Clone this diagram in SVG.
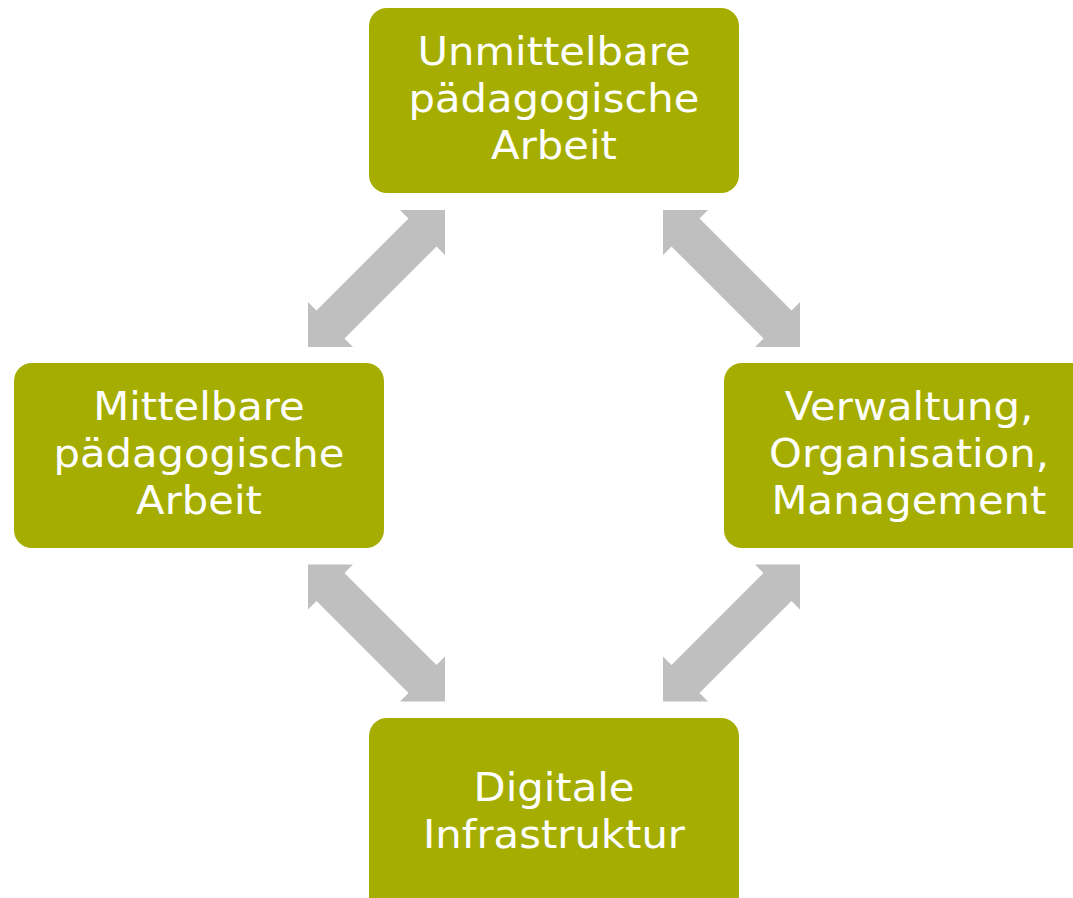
<svg xmlns="http://www.w3.org/2000/svg" xmlns:xlink="http://www.w3.org/1999/xlink" width="1073" height="898" viewBox="0 0 1073 898">
<defs>
<style>
.box{fill:#A5AE00;}
.lbl{font-family:"DejaVu Sans","Verdana",sans-serif;font-size:39px;fill:#FFFFFF;text-anchor:middle;}
.arr{fill:#BFBFBF;}
</style>
<polygon id="dblarrow" class="arr" points="23.5,-68.5 68.5,-68.5 68.5,-23.5 60,-32 -32,60 -23.5,68.5 -68.5,68.5 -68.5,23.5 -60,32 32,-60"/>
</defs>
<rect width="1073" height="898" fill="#FFFFFF"/>
<g id="connectors">
<use xlink:href="#dblarrow" transform="translate(376.5 278.5)"/>
<use xlink:href="#dblarrow" transform="translate(731.5 278.5) scale(-1 1)"/>
<use xlink:href="#dblarrow" transform="translate(376.5 633) scale(-1 1)"/>
<use xlink:href="#dblarrow" transform="translate(731.5 633)"/>
</g>
<g id="node-unmittelbare">
<rect class="box" x="369" y="8" width="370" height="185" rx="18" ry="18"/>
<text class="lbl" transform="translate(554 0) scale(1.07 1)"><tspan x="0" y="65">Unmittelbare</tspan><tspan x="0" y="112">pädagogische</tspan><tspan x="0" y="159">Arbeit</tspan></text>
</g>
<g id="node-mittelbare">
<rect class="box" x="14" y="363" width="370" height="185" rx="18" ry="18"/>
<text class="lbl" transform="translate(199 0) scale(1.07 1)"><tspan x="0" y="420">Mittelbare</tspan><tspan x="0" y="467">pädagogische</tspan><tspan x="0" y="514">Arbeit</tspan></text>
</g>
<g id="node-verwaltung">
<rect class="box" x="724" y="363" width="370" height="185" rx="18" ry="18"/>
<text class="lbl" transform="translate(909 0) scale(1.07 1)"><tspan x="0" y="420">Verwaltung,</tspan><tspan x="0" y="467">Organisation,</tspan><tspan x="0" y="514">Management</tspan></text>
</g>
<g id="node-digitale">
<rect class="box" x="369" y="718" width="370" height="200" rx="18" ry="18"/>
<text class="lbl" transform="translate(554 0) scale(1.07 1)"><tspan x="0" y="801">Digitale</tspan><tspan x="0" y="848">Infrastruktur</tspan></text>
</g>
</svg>
